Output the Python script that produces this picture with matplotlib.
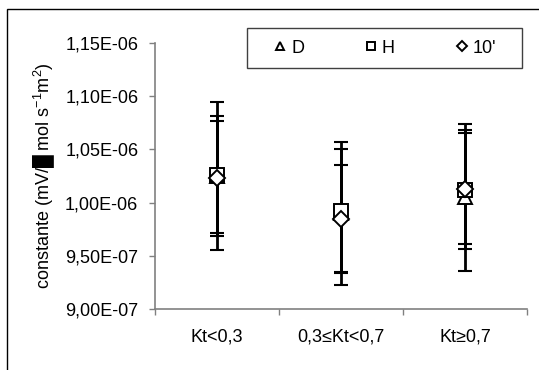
import numpy as np
import matplotlib
matplotlib.use('Agg')
import matplotlib.pyplot as plt
from matplotlib.patches import Rectangle

plt.rcParams['font.family'] = ['Liberation Sans', 'DejaVu Sans']
plt.rcParams['mathtext.fontset'] = 'custom'
plt.rcParams['mathtext.rm'] = 'Liberation Sans'
plt.rcParams['mathtext.it'] = 'Liberation Sans'

# data
categories = ['Kt<0,3', '0,3\u2264Kt<0,7', 'Kt\u22650,7']
series = ['D', 'H', "10'"]
d_vals = [1.025e-06, 0.990e-06, 1.005e-06]
d_err = [0.070e-06, 0.067e-06, 0.069e-06]
h_vals = [1.026e-06, 0.992e-06, 1.012e-06]
h_err = [0.055e-06, 0.058e-06, 0.056e-06]
m10_vals = [1.023e-06, 0.985e-06, 1.013e-06]
m10_err = [0.054e-06, 0.050e-06, 0.052e-06]
yticks = [9.0e-07, 9.5e-07, 1.0e-06, 1.05e-06, 1.10e-06, 1.15e-06]
ytick_labels = ['9,00E-07', '9,50E-07', '1,00E-06', '1,05E-06', '1,10E-06', '1,15E-06']

fs = 13

fig = plt.figure(figsize=(5.39, 3.70), dpi=100)
ax = fig.add_axes([0.2876, 0.1649, 0.6901, 0.7189])

# outer chart frame
fig.patches.append(Rectangle((7 / 539, -0.1), 1.2, 1 - 9 / 370 + 0.1,
                             transform=fig.transFigure, fill=False,
                             edgecolor='black', linewidth=1.0))

x = np.arange(1, len(categories) + 1)
all_vals = [d_vals, h_vals, m10_vals]
all_err = [d_err, h_err, m10_err]
markers = ['^', 's', 'D']
msizes = [9.5, 9.5, 8.5]

for vals, err in zip(all_vals, all_err):
    ax.errorbar(x, vals, yerr=err, fmt='none', ecolor='black',
                elinewidth=2.0, capsize=4.7, capthick=1.5, zorder=2)

for vals, mk, ms, name in zip(all_vals, markers, msizes, series):
    ax.plot(x, vals, linestyle='none', marker=mk, markersize=ms,
            markerfacecolor='white', markeredgecolor='black',
            markeredgewidth=1.4, zorder=3, label=name)

ax.set_xlim(0.5, 3.5)
ax.set_ylim(9.0e-07, 1.15e-06)
ax.set_yticks(yticks)
ax.set_yticklabels(ytick_labels, fontsize=fs)
ax.set_xticks([0.5, 1.5, 2.5, 3.5])
ax.set_xticklabels([])
ax.set_xticks(x, minor=True)
ax.set_xticklabels(categories, minor=True, fontsize=fs)
ax.tick_params(axis='x', which='minor', length=0, pad=14)
ax.tick_params(axis='both', which='major', direction='out', length=4,
               color='#808080', width=1)
ax.tick_params(axis='y', pad=8)

for side in ['top', 'right']:
    ax.spines[side].set_visible(False)
for side in ['left', 'bottom']:
    ax.spines[side].set_color('#808080')
    ax.spines[side].set_linewidth(1.2)

ax.set_ylabel('constante (mV/\u2588 mol s$^{-1}$m$^{2}$)', fontsize=fs, labelpad=6)

# legend box drawn separately, entries centred inside it
ax.add_patch(Rectangle((0.247, 0.906), 0.739, 0.150, transform=ax.transAxes,
                       fill=True, facecolor='white', edgecolor='#404040',
                       linewidth=1.0, clip_on=False, zorder=4))
leg = ax.legend(loc='center', bbox_to_anchor=(0.617, 0.981), ncol=3,
                frameon=False, fontsize=fs, markerscale=0.62,
                handletextpad=0.2, handlelength=0.8, columnspacing=3.3,
                borderaxespad=0, borderpad=0)
leg.set_zorder(5)

fig.savefig('out.png', dpi=100)
